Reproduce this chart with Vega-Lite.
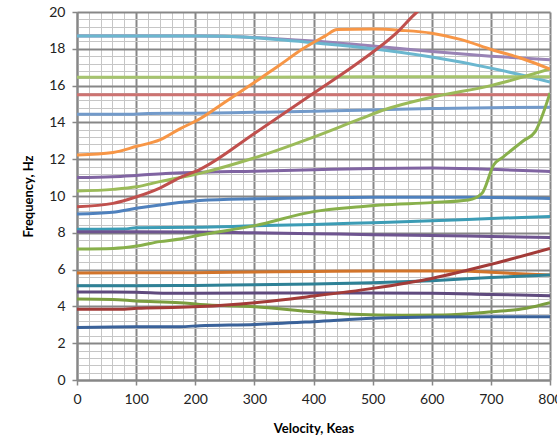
{
  "$schema": "https://vega.github.io/schema/vega-lite/v6.json",
  "width": 473,
  "height": 368,
  "autosize": {"type": "none"},
  "padding": {"left": 77, "top": 12, "right": 7, "bottom": 56},
  "background": "white",
  "config": {"view": {"stroke": null}, "font": "Lato"},
  "datasets": {
    "lines": [
      {"s": "S01", "v": 0, "f": 18.7}, {"s": "S01", "v": 100, "f": 18.7}, {"s": "S01", "v": 200, "f": 18.7}, {"s": "S01", "v": 300, "f": 18.62}, {"s": "S01", "v": 400, "f": 18.42}, {"s": "S01", "v": 500, "f": 18.15}, {"s": "S01", "v": 600, "f": 17.85}, {"s": "S01", "v": 700, "f": 17.6}, {"s": "S01", "v": 800, "f": 17.4},
      {"s": "S02", "v": 0, "f": 18.7}, {"s": "S02", "v": 100, "f": 18.7}, {"s": "S02", "v": 200, "f": 18.7}, {"s": "S02", "v": 250, "f": 18.68}, {"s": "S02", "v": 300, "f": 18.6}, {"s": "S02", "v": 400, "f": 18.33}, {"s": "S02", "v": 500, "f": 18.0}, {"s": "S02", "v": 600, "f": 17.55}, {"s": "S02", "v": 700, "f": 16.95}, {"s": "S02", "v": 800, "f": 16.2},
      {"s": "S03", "v": 0, "f": 16.45}, {"s": "S03", "v": 200, "f": 16.45}, {"s": "S03", "v": 400, "f": 16.47}, {"s": "S03", "v": 600, "f": 16.48}, {"s": "S03", "v": 800, "f": 16.48},
      {"s": "S04", "v": 0, "f": 15.5}, {"s": "S04", "v": 400, "f": 15.5}, {"s": "S04", "v": 800, "f": 15.5},
      {"s": "S05", "v": 0, "f": 14.44}, {"s": "S05", "v": 80, "f": 14.44}, {"s": "S05", "v": 120, "f": 14.48}, {"s": "S05", "v": 200, "f": 14.5}, {"s": "S05", "v": 300, "f": 14.55}, {"s": "S05", "v": 400, "f": 14.6}, {"s": "S05", "v": 500, "f": 14.68}, {"s": "S05", "v": 600, "f": 14.75}, {"s": "S05", "v": 700, "f": 14.8}, {"s": "S05", "v": 800, "f": 14.82},
      {"s": "S06", "v": 0, "f": 11.0}, {"s": "S06", "v": 60, "f": 11.05}, {"s": "S06", "v": 100, "f": 11.12}, {"s": "S06", "v": 150, "f": 11.22}, {"s": "S06", "v": 200, "f": 11.28}, {"s": "S06", "v": 300, "f": 11.35}, {"s": "S06", "v": 400, "f": 11.43}, {"s": "S06", "v": 500, "f": 11.5}, {"s": "S06", "v": 600, "f": 11.52}, {"s": "S06", "v": 700, "f": 11.45}, {"s": "S06", "v": 800, "f": 11.33},
      {"s": "S07", "v": 0, "f": 9.02}, {"s": "S07", "v": 60, "f": 9.12}, {"s": "S07", "v": 100, "f": 9.33}, {"s": "S07", "v": 150, "f": 9.55}, {"s": "S07", "v": 208, "f": 9.75}, {"s": "S07", "v": 300, "f": 9.85}, {"s": "S07", "v": 400, "f": 9.9}, {"s": "S07", "v": 500, "f": 9.93}, {"s": "S07", "v": 600, "f": 9.93}, {"s": "S07", "v": 700, "f": 9.92}, {"s": "S07", "v": 800, "f": 9.87},
      {"s": "S08", "v": 0, "f": 8.19}, {"s": "S08", "v": 80, "f": 8.2}, {"s": "S08", "v": 100, "f": 8.28}, {"s": "S08", "v": 200, "f": 8.3}, {"s": "S08", "v": 300, "f": 8.38}, {"s": "S08", "v": 400, "f": 8.45}, {"s": "S08", "v": 500, "f": 8.55}, {"s": "S08", "v": 600, "f": 8.65}, {"s": "S08", "v": 700, "f": 8.78}, {"s": "S08", "v": 800, "f": 8.88},
      {"s": "S09", "v": 0, "f": 8.06}, {"s": "S09", "v": 200, "f": 8.05}, {"s": "S09", "v": 300, "f": 8.0}, {"s": "S09", "v": 400, "f": 7.95}, {"s": "S09", "v": 500, "f": 7.9}, {"s": "S09", "v": 600, "f": 7.86}, {"s": "S09", "v": 700, "f": 7.8}, {"s": "S09", "v": 800, "f": 7.74},
      {"s": "S10", "v": 0, "f": 5.82}, {"s": "S10", "v": 200, "f": 5.83}, {"s": "S10", "v": 300, "f": 5.87}, {"s": "S10", "v": 400, "f": 5.9}, {"s": "S10", "v": 500, "f": 5.92}, {"s": "S10", "v": 650, "f": 5.92}, {"s": "S10", "v": 700, "f": 5.85}, {"s": "S10", "v": 800, "f": 5.7},
      {"s": "S11", "v": 0, "f": 5.12}, {"s": "S11", "v": 100, "f": 5.12}, {"s": "S11", "v": 200, "f": 5.14}, {"s": "S11", "v": 300, "f": 5.18}, {"s": "S11", "v": 400, "f": 5.22}, {"s": "S11", "v": 500, "f": 5.28}, {"s": "S11", "v": 600, "f": 5.4}, {"s": "S11", "v": 700, "f": 5.57}, {"s": "S11", "v": 800, "f": 5.7},
      {"s": "S12", "v": 0, "f": 4.78}, {"s": "S12", "v": 100, "f": 4.77}, {"s": "S12", "v": 150, "f": 4.72}, {"s": "S12", "v": 200, "f": 4.72}, {"s": "S12", "v": 400, "f": 4.73}, {"s": "S12", "v": 600, "f": 4.72}, {"s": "S12", "v": 700, "f": 4.65}, {"s": "S12", "v": 800, "f": 4.58},
      {"s": "S13", "v": 0, "f": 4.4}, {"s": "S13", "v": 60, "f": 4.38}, {"s": "S13", "v": 100, "f": 4.3}, {"s": "S13", "v": 174, "f": 4.2}, {"s": "S13", "v": 208, "f": 4.11}, {"s": "S13", "v": 301, "f": 3.98}, {"s": "S13", "v": 400, "f": 3.71}, {"s": "S13", "v": 467, "f": 3.57}, {"s": "S13", "v": 550, "f": 3.52}, {"s": "S13", "v": 620, "f": 3.53}, {"s": "S13", "v": 702, "f": 3.71}, {"s": "S13", "v": 760, "f": 3.9}, {"s": "S13", "v": 800, "f": 4.2},
      {"s": "S14", "v": 0, "f": 3.84}, {"s": "S14", "v": 80, "f": 3.85}, {"s": "S14", "v": 101, "f": 3.9}, {"s": "S14", "v": 174, "f": 3.95}, {"s": "S14", "v": 208, "f": 3.99}, {"s": "S14", "v": 301, "f": 4.2}, {"s": "S14", "v": 400, "f": 4.56}, {"s": "S14", "v": 500, "f": 4.98}, {"s": "S14", "v": 600, "f": 5.52}, {"s": "S14", "v": 702, "f": 6.3}, {"s": "S14", "v": 800, "f": 7.15},
      {"s": "S15", "v": 0, "f": 2.86}, {"s": "S15", "v": 100, "f": 2.9}, {"s": "S15", "v": 174, "f": 2.9}, {"s": "S15", "v": 208, "f": 2.95}, {"s": "S15", "v": 301, "f": 3.02}, {"s": "S15", "v": 400, "f": 3.17}, {"s": "S15", "v": 500, "f": 3.35}, {"s": "S15", "v": 600, "f": 3.43}, {"s": "S15", "v": 800, "f": 3.44},
      {"s": "S16", "v": 0, "f": 10.27}, {"s": "S16", "v": 61, "f": 10.36}, {"s": "S16", "v": 101, "f": 10.5}, {"s": "S16", "v": 140, "f": 10.78}, {"s": "S16", "v": 208, "f": 11.23}, {"s": "S16", "v": 298, "f": 12.05}, {"s": "S16", "v": 400, "f": 13.2}, {"s": "S16", "v": 480, "f": 14.2}, {"s": "S16", "v": 521, "f": 14.7}, {"s": "S16", "v": 600, "f": 15.37}, {"s": "S16", "v": 700, "f": 16.0}, {"s": "S16", "v": 800, "f": 16.9},
      {"s": "S17", "v": 0, "f": 7.12}, {"s": "S17", "v": 61, "f": 7.15}, {"s": "S17", "v": 101, "f": 7.28}, {"s": "S17", "v": 140, "f": 7.52}, {"s": "S17", "v": 174, "f": 7.66}, {"s": "S17", "v": 208, "f": 7.88}, {"s": "S17", "v": 301, "f": 8.39}, {"s": "S17", "v": 400, "f": 9.15}, {"s": "S17", "v": 479, "f": 9.42}, {"s": "S17", "v": 513, "f": 9.51}, {"s": "S17", "v": 600, "f": 9.64}, {"s": "S17", "v": 662, "f": 9.78}, {"s": "S17", "v": 685, "f": 10.15}, {"s": "S17", "v": 705, "f": 11.7}, {"s": "S17", "v": 720, "f": 12.1}, {"s": "S17", "v": 755, "f": 13.0}, {"s": "S17", "v": 775, "f": 13.5}, {"s": "S17", "v": 800, "f": 15.6},
      {"s": "S18", "v": 0, "f": 12.23}, {"s": "S18", "v": 61, "f": 12.37}, {"s": "S18", "v": 101, "f": 12.7}, {"s": "S18", "v": 140, "f": 13.05}, {"s": "S18", "v": 174, "f": 13.65}, {"s": "S18", "v": 208, "f": 14.2}, {"s": "S18", "v": 250, "f": 15.1}, {"s": "S18", "v": 301, "f": 16.2}, {"s": "S18", "v": 340, "f": 17.05}, {"s": "S18", "v": 382, "f": 18.0}, {"s": "S18", "v": 420, "f": 18.7}, {"s": "S18", "v": 440, "f": 19.05}, {"s": "S18", "v": 500, "f": 19.07}, {"s": "S18", "v": 550, "f": 19.0}, {"s": "S18", "v": 600, "f": 18.85}, {"s": "S18", "v": 650, "f": 18.5}, {"s": "S18", "v": 702, "f": 17.95}, {"s": "S18", "v": 750, "f": 17.5}, {"s": "S18", "v": 800, "f": 16.9},
      {"s": "S19", "v": 0, "f": 9.42}, {"s": "S19", "v": 61, "f": 9.6}, {"s": "S19", "v": 101, "f": 9.96}, {"s": "S19", "v": 140, "f": 10.43}, {"s": "S19", "v": 174, "f": 11.0}, {"s": "S19", "v": 208, "f": 11.45}, {"s": "S19", "v": 300, "f": 13.4}, {"s": "S19", "v": 400, "f": 15.58}, {"s": "S19", "v": 482, "f": 17.39}, {"s": "S19", "v": 540, "f": 18.85}, {"s": "S19", "v": 575, "f": 20.0}, {"s": "S19", "v": 600, "f": 20.6}
    ]
  },
  "data": {"name": "lines"},
  "mark": {"type": "line", "strokeWidth": 3, "interpolate": "monotone", "clip": true},
  "encoding": {
    "x": {
      "field": "v", "type": "quantitative",
      "scale": {"domain": [0, 800], "nice": false, "zero": false},
      "axis": {
        "title": "Velocity, Keas",
        "titleFont": "Lato", "titleFontSize": 13, "titleFontWeight": "bold", "titleColor": "#000000", "titlePadding": 16,
        "values": [0,20,40,60,80,100,120,140,160,180,200,220,240,260,280,300,320,340,360,380,400,420,440,460,480,500,520,540,560,580,600,620,640,660,680,700,720,740,760,780,800],
        "labelExpr": "datum.value % 100 === 0 ? datum.label : ''",
        "labelFont": "Lato", "labelFontSize": 14, "labelColor": "#222222", "labelPadding": 7,
        "labelOverlap": false, "labelFlush": false,
        "grid": true,
        "gridColor": {"condition": {"test": "datum.value % 100 === 0", "value": "#878787"}, "value": "#c6c6c6"},
        "gridWidth": {"condition": {"test": "datum.value % 100 === 0", "value": 2}, "value": 1},
        "tickColor": "#878787", "tickSize": 5, "tickWidth": 1.5,
        "tickOpacity": {"condition": {"test": "datum.value % 100 === 0", "value": 1}, "value": 0},
        "domainColor": "#878787", "domainWidth": 2
      }
    },
    "y": {
      "field": "f", "type": "quantitative",
      "scale": {"domain": [0, 20], "nice": false, "zero": true},
      "axis": {
        "title": "Frequency, Hz",
        "titleFont": "Lato", "titleFontSize": 13, "titleFontWeight": "bold", "titleColor": "#000000", "titlePadding": 13,
        "values": [0,0.4,0.8,1.2,1.6,2,2.4,2.8,3.2,3.6,4,4.4,4.8,5.2,5.6,6,6.4,6.8,7.2,7.6,8,8.4,8.8,9.2,9.6,10,10.4,10.8,11.2,11.6,12,12.4,12.8,13.2,13.6,14,14.4,14.8,15.2,15.6,16,16.4,16.8,17.2,17.6,18,18.4,18.8,19.2,19.6,20],
        "labelExpr": "abs(datum.value - round(datum.value / 2) * 2) < 0.01 ? format(datum.value, 'd') : ''",
        "labelFont": "Lato", "labelFontSize": 14, "labelColor": "#222222", "labelPadding": 7,
        "labelOverlap": false, "labelFlush": false,
        "grid": true,
        "gridColor": {"condition": {"test": "abs(datum.value - round(datum.value / 2) * 2) < 0.01", "value": "#878787"}, "value": "#c6c6c6"},
        "gridWidth": {"condition": {"test": "abs(datum.value - round(datum.value / 2) * 2) < 0.01", "value": 2}, "value": 1},
        "tickColor": "#878787", "tickSize": 5, "tickWidth": 1.5,
        "tickOpacity": {"condition": {"test": "abs(datum.value - round(datum.value / 2) * 2) < 0.01", "value": 1}, "value": 0},
        "domainColor": "#878787", "domainWidth": 2
      }
    },
    "color": {
      "field": "s", "type": "nominal", "legend": null,
      "scale": {
        "domain": ["S01","S02","S03","S04","S05","S06","S07","S08","S09","S10","S11","S12","S13","S14","S15","S16","S17","S18","S19"],
        "range": ["#9983B5","#6BB7CF","#A6C46E","#CD7371","#729ACA","#8064A2","#4F81BD","#3C9CB5","#6E5490","#D2742A","#2E8196","#5F4A7E","#7B9E3F","#A33B38","#3A629A","#9BBB59","#88B04B","#F79646","#C0504D"]
      }
    },
    "order": {"field": "v", "type": "quantitative"}
  }
}
